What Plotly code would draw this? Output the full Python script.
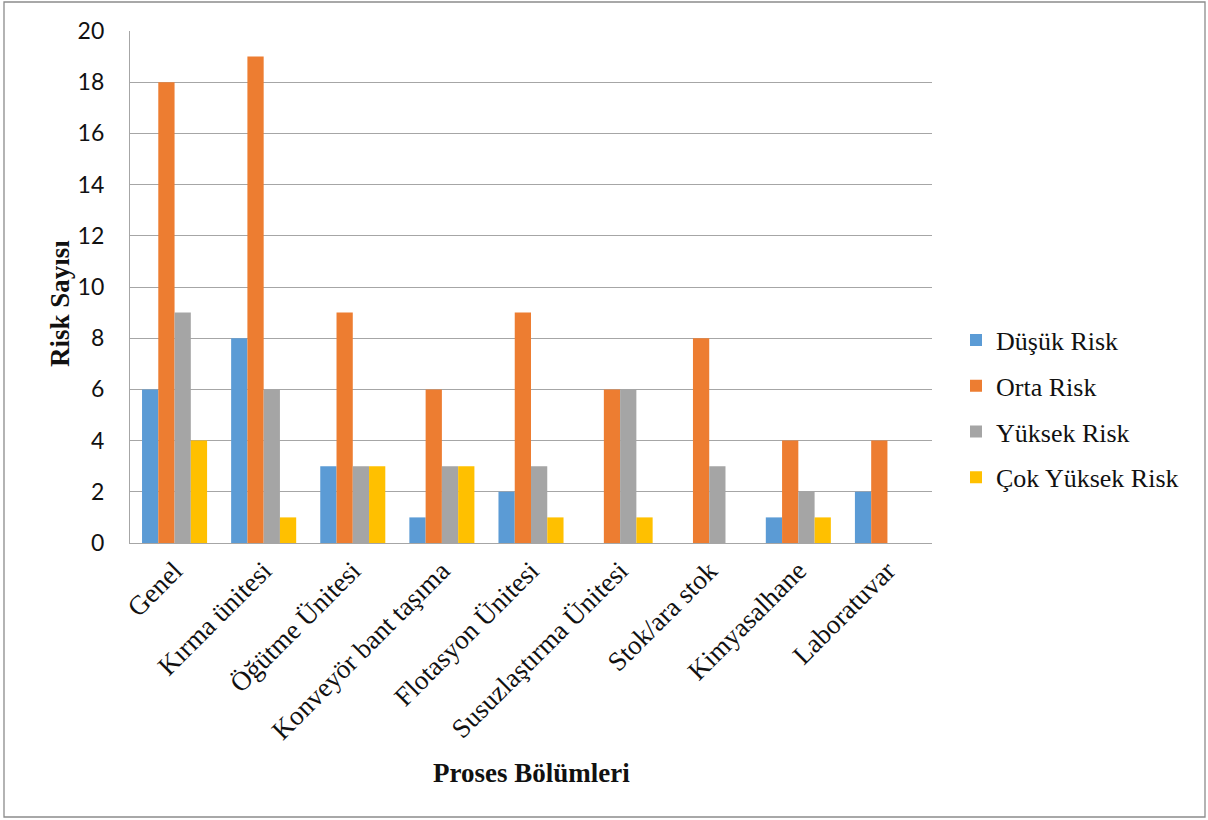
import plotly.graph_objects as go

# Risk counts per process section
categories = [
    "Genel", "Kırma ünitesi", "Öğütme Ünitesi", "Konveyör bant taşıma",
    "Flotasyon Ünitesi", "Susuzlaştırma Ünitesi", "Stok/ara stok",
    "Kimyasalhane", "Laboratuvar",
]
dusuk_risk = [6, 8, 3, 1, 2, 0, 0, 1, 2]
orta_risk = [18, 19, 9, 6, 9, 6, 8, 4, 4]
yuksek_risk = [9, 6, 3, 3, 3, 6, 3, 2, 0]
cok_yuksek_risk = [4, 1, 3, 3, 1, 1, 0, 1, 0]

series_names = ["Düşük Risk", "Orta Risk", "Yüksek Risk", "Çok Yüksek Risk"]
series_values = [dusuk_risk, orta_risk, yuksek_risk, cok_yuksek_risk]
series_colors = ["#5B9BD5", "#ED7D31", "#A5A5A5", "#FFC000"]
y_ticks = [0, 2, 4, 6, 8, 10, 12, 14, 16, 18, 20]

serif = "Liberation Serif"
sans = "Lato"

fig = go.Figure()
for name, vals, col in zip(series_names, series_values, series_colors):
    fig.add_trace(go.Bar(
        x=categories, y=vals, name=name, legendgroup=name,
        marker=dict(color=col, line=dict(width=0)),
    ))

W, H = 1208, 820
L, R, T, B = 130, 932, 31, 543
pw, ph = R - L, B - T


def px_x(p):
    return (p - L) / pw


def px_y(p):
    return (B - p) / ph


fig.update_layout(
    width=W, height=H,
    margin=dict(l=L, r=W - R, t=T, b=H - B),
    paper_bgcolor="white", plot_bgcolor="white",
    barmode="group", bargap=0.27, bargroupgap=0,
    showlegend=True,
    legend=dict(
        x=px_x(956), y=px_y(409), xanchor="left", yanchor="middle",
        font=dict(family=serif, size=26, color="#111"),
        traceorder="grouped", tracegroupgap=9,
        itemwidth=30, bgcolor="rgba(0,0,0,0)",
    ),
    xaxis=dict(
        type="category", tickangle=-45,
        tickfont=dict(family=serif, size=27, color="#111"),
        showline=True, linecolor="#A6A6A6", linewidth=1.3,
        showgrid=False, ticks="", automargin=False,
    ),
    yaxis=dict(
        range=[0, 20], tickvals=y_ticks,
        tickfont=dict(family=sans, size=23, color="#111"),
        showgrid=True, gridcolor="#A6A6A6", gridwidth=1.3,
        showline=True, linecolor="#A6A6A6", linewidth=1.3,
        zeroline=False, ticks="", ticklen=0, automargin=False,
        ticklabelstandoff=20,
    ),
    annotations=[
        dict(text="<b>Risk Sayısı</b>", xref="paper", yref="paper",
             x=px_x(60), y=px_y(304), textangle=-90, showarrow=False,
             xanchor="center", yanchor="middle",
             font=dict(family=serif, size=27, color="#111")),
        dict(text="<b>Proses Bölümleri</b>", xref="paper", yref="paper",
             x=px_x(531), y=px_y(773), showarrow=False,
             xanchor="center", yanchor="middle",
             font=dict(family=serif, size=27, color="#111")),
    ],
    shapes=[
        dict(type="rect", xref="paper", yref="paper",
             x0=px_x(4), x1=px_x(1205), y0=px_y(817), y1=px_y(2),
             line=dict(color="#8C8C8C", width=1.3), fillcolor="rgba(0,0,0,0)",
             layer="below"),
    ],
)

fig.write_html("out.html")
